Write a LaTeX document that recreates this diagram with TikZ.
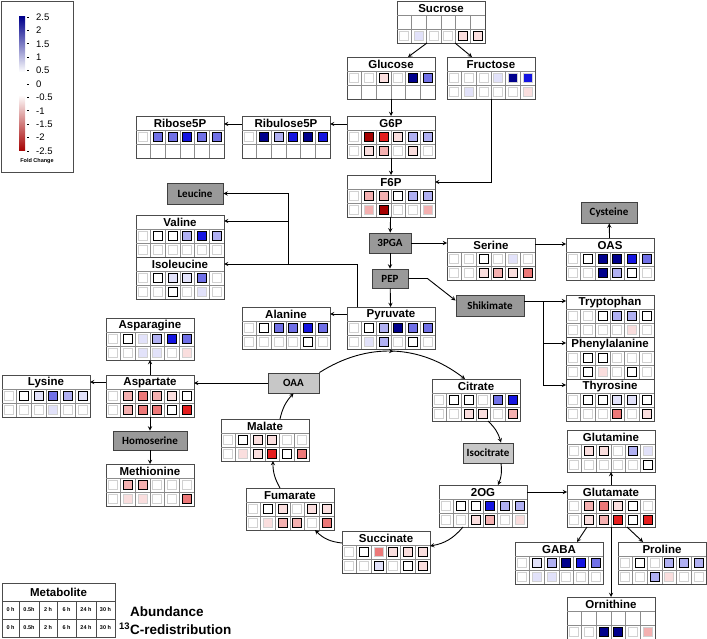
\documentclass[tikz,border=0pt]{standalone}
\usepackage{fontspec}
\setmainfont{Liberation Sans}
\newfontfamily\boxfont{Carlito}
\usetikzlibrary{positioning}
\usetikzlibrary{arrows}
\usetikzlibrary{decorations.markings}

\definecolor{b1}{RGB}{226,226,250}
\definecolor{b2}{RGB}{176,176,242}
\definecolor{b3}{RGB}{112,112,230}
\definecolor{b4}{RGB}{20,20,225}
\definecolor{b5}{RGB}{0,0,140}
\definecolor{r1}{RGB}{250,222,222}
\definecolor{r2}{RGB}{244,176,176}
\definecolor{r3}{RGB}{236,120,120}
\definecolor{r4}{RGB}{228,30,30}
\definecolor{r5}{RGB}{165,0,0}
\colorlet{c0}{white}
\colorlet{x}{white}

\tikzset{
  metbox/.style={rectangle,draw=black!70,line width=0.9pt,
                 minimum width=88pt,minimum height=42pt,
                 inner sep=0pt,outer sep=0pt},
  mettitle/.style={font=\fontsize{11.5}{12}\selectfont\bfseries,inner sep=0pt},
  cellgrid/.style={draw=black!45,line width=0.6pt},
  cellg/.style={draw=black!18,line width=0.7pt},
  cellk/.style={draw=black,line width=1.3pt},
  cellx/.style={draw=none,fill=none},
  interm/.style={rectangle,draw=black!75,fill=black!40,line width=0.9pt,
                 inner sep=0pt,font=\boxfont\fontsize{11}{12}\selectfont\bfseries},
  intermlight/.style={interm,fill=black!22},
  convflow/.style={>=stealth,line width=0.9pt,->},
  cycleflow/.style={convflow,postaction={decorate},
                    decoration={markings,mark=at position 0.5 with {\arrow{stealth}}}},
  legframe/.style={rectangle,draw=black!70,line width=0.9pt,inner sep=0pt},
  fclabel/.style={anchor=west,inner sep=0pt,font=\fontsize{9.5}{10}\selectfont},
  hourlabel/.style={inner sep=0pt,font=\fontsize{5.5}{6}\selectfont\bfseries},
  legtext/.style={anchor=west,inner sep=0pt,font=\fontsize{13.5}{14}\selectfont\bfseries},
}

% name, placement, title, abundance row, 13C row
\newcommand{\metab}[5]{%
  \node[metbox,#2] (#1) {};
  \begin{scope}[shift={(#1.north west)}]
    \node[mettitle] (#1-t) at (44,7.5) {#3};
    \draw[cellgrid] (0,14) -- (88,14) (0,28) -- (88,28);
    \foreach \k in {1,...,5}
      \draw[cellgrid] (\k*14.667,14) -- (\k*14.667,42);
    \foreach \cfill/\cbord [count=\i from 0] in {#4}
      \path[fill=\cfill,cell\cbord] (\i*14.667+2.83,16.5) rectangle ++(9,9);
    \foreach \cfill/\cbord [count=\i from 0] in {#5}
      \path[fill=\cfill,cell\cbord] (\i*14.667+2.83,30.5) rectangle ++(9,9);
  \end{scope}
}

\begin{document}
\begin{tikzpicture}[x=1pt,y=-1pt]
  \useasboundingbox (0,0) rectangle (707,639);

  % fold change legend
  \node[legframe,minimum width=72pt,minimum height=171pt] (fclegend) at (37,86.5) {};
  \shade[top color=b5,bottom color=white] (19,17) rectangle (25,72);
  \shade[top color=white,bottom color=r5] (19,95) rectangle (25,151);
  \foreach \v [count=\i from 0] in {2.5,2,1.5,1,0.5,0,-0.5,-1,-1.5,-2,-2.5}{
    \draw[line width=0.6pt] (27,17+\i*13.4) -- (28.5,17+\i*13.4);
    \node[fclabel] (fc\i) at (36,17+\i*13.4) {\v};
  }
  \node[inner sep=0pt,font=\fontsize{5.5}{6}\selectfont\bfseries] (fctitle) at (37,161) {Fold Change};

  % metabolites
  \metab{sucrose}{at={(441,22)}}{Sucrose}{x,x,x,x,x,x}{c0/g,b1/g,c0/g,c0/g,r1/k,r1/k}
  \metab{glucose}{at={(391,78)}}{Glucose}{c0/g,c0/g,r1/k,c0/g,b5/k,b3/k}{x,x,x,x,x,x}
  \metab{fructose}{at={(491,78)}}{Fructose}{c0/g,c0/g,c0/g,b1/g,b5/g,b4/g}{c0/g,b1/g,c0/g,c0/g,c0/g,r1/g}
  \metab{g6p}{at={(391,137)}}{G6P}{c0/g,r5/k,r4/k,r1/k,b2/k,b2/k}{c0/g,r1/k,r2/k,c0/g,r1/k,c0/g}
  \metab{f6p}{at={(391,196)}}{F6P}{c0/g,r2/k,r2/k,c0/k,b2/k,b2/k}{c0/g,r2/g,r5/k,c0/g,c0/g,r2/g}
  \metab{ribulose}{at={(286,137)}}{Ribulose5P}{c0/g,b5/k,b2/k,b4/k,b5/k,b4/k}{x,x,x,x,x,x}
  \metab{ribose}{at={(180,137)}}{Ribose5P}{c0/g,b3/k,b3/k,b4/k,b3/k,b3/k}{x,x,x,x,x,x}
  \metab{valine}{at={(180,236)}}{Valine}{c0/g,c0/k,c0/k,b2/k,b4/k,b2/k}{c0/g,c0/g,c0/g,c0/g,c0/g,c0/g}
  \metab{isoleucine}{below=0pt of valine}{Isoleucine}{c0/g,c0/k,b1/k,b1/k,b3/k,c0/g}{c0/g,c0/g,c0/k,c0/g,b1/g,c0/g}
  \metab{pyruvate}{at={(391,328)}}{Pyruvate}{c0/g,c0/k,b2/k,b5/k,b3/k,b3/k}{c0/g,b1/g,b2/k,c0/g,c0/k,c0/g}
  \metab{alanine}{at={(286,328)}}{Alanine}{c0/g,c0/k,b3/k,b3/k,b4/k,b3/k}{c0/g,c0/g,c0/g,c0/g,c0/k,c0/g}
  \metab{serine}{at={(491,259)}}{Serine}{c0/g,c0/g,c0/k,c0/g,b1/g,c0/g}{c0/g,c0/g,r1/k,r2/k,r1/k,r3/k}
  \metab{oas}{at={(610,259)}}{OAS}{c0/g,c0/k,b5/k,b5/k,b4/k,b3/k}{c0/g,c0/g,b5/k,b2/k,c0/k,c0/g}
  \metab{tryptophan}{at={(610,316)}}{Tryptophan}{c0/g,c0/g,c0/k,b2/k,b2/k,c0/k}{c0/g,c0/g,c0/g,c0/g,r1/g,c0/g}
  \metab{phenylalanine}{below=0pt of tryptophan}{Phenylalanine}{c0/g,c0/k,c0/k,c0/g,c0/g,c0/g}{c0/g,c0/k,r1/g,c0/g,c0/k,c0/g}
  \metab{thyrosine}{below=0pt of phenylalanine}{Thyrosine}{c0/g,c0/k,c0/k,b1/k,b1/k,c0/k}{c0/g,c0/g,c0/g,r3/k,c0/g,r1/k}
  \metab{asparagine}{at={(150,339)}}{Asparagine}{c0/g,c0/k,b1/g,b2/k,b4/k,b3/k}{c0/g,c0/g,b1/g,b1/g,c0/g,r1/g}
  \metab{aspartate}{at={(150,396)}}{Aspartate}{c0/g,r2/k,r3/k,r2/k,r1/k,c0/k}{c0/g,r2/k,r3/k,r3/k,c0/k,r4/k}
  \metab{lysine}{at={(46,396)}}{Lysine}{c0/g,c0/k,b1/k,b3/k,b2/k,b1/k}{c0/g,c0/g,c0/g,b1/g,c0/g,c0/g}
  \metab{methionine}{at={(150,485)}}{Methionine}{c0/g,r2/k,r2/k,c0/g,c0/g,c0/g}{c0/g,r1/g,r1/g,c0/g,c0/g,r3/k}
  \metab{malate}{at={(265,440)}}{Malate}{c0/g,c0/k,r1/k,r1/k,c0/g,c0/g}{c0/g,r1/g,r1/k,r4/k,c0/k,r3/k}
  \metab{fumarate}{at={(290,509)}}{Fumarate}{c0/g,c0/k,r1/k,c0/g,r1/k,r1/k}{c0/g,r1/g,r2/k,r2/k,c0/g,r3/k}
  \metab{succinate}{at={(386,552)}}{Succinate}{c0/g,c0/k,r3/g,r1/k,r1/k,r1/k}{c0/g,c0/g,b1/k,c0/g,c0/k,r1/k}
  \metab{citrate}{at={(476,400)}}{Citrate}{c0/g,c0/k,c0/k,c0/g,b3/k,b4/k}{c0/g,c0/g,r1/k,r1/k,c0/g,r2/k}
  \metab{twoog}{at={(483,506)}}{2OG}{c0/g,c0/k,c0/k,b4/k,b2/k,b2/k}{c0/g,c0/g,r1/k,r2/k,c0/g,r1/g}
  \metab{glutamate}{at={(611,506)}}{Glutamate}{c0/g,r2/k,r3/k,r1/k,c0/k,c0/g}{c0/g,r1/k,r2/k,r4/k,c0/k,r4/k}
  \metab{glutamine}{at={(611,451)}}{Glutamine}{c0/g,r1/k,r1/k,c0/g,b2/k,b1/g}{c0/g,c0/g,c0/g,c0/g,c0/g,c0/k}
  \metab{gaba}{at={(559,563)}}{GABA}{c0/g,b1/k,b2/k,b5/k,b4/k,b3/k}{c0/g,b1/g,b1/g,c0/g,c0/g,c0/g}
  \metab{proline}{at={(662,563)}}{Proline}{c0/g,c0/k,c0/g,b2/k,b2/k,b2/k}{c0/g,c0/g,b2/k,r1/g,c0/g,c0/g}
  \metab{ornithine}{at={(611,618)}}{Ornithine}{x,x,x,x,x,x}{c0/g,c0/g,b5/k,b5/k,c0/g,r2/g}

  % unmeasured intermediates
  \node[interm,minimum width=56pt,minimum height=21pt] (leucine) at (195,193.5) {Leucine};
  \node[interm,minimum width=42pt,minimum height=20pt] (pga) at (390,243) {3PGA};
  \node[interm,minimum width=36pt,minimum height=19pt] (pep) at (390,278.5) {PEP};
  \node[interm,minimum width=56pt,minimum height=21pt] (cysteine) at (609,212.5) {Cysteine};
  \node[interm,minimum width=68pt,minimum height=21pt] (shikimate) at (490,305.5) {Shikimate};
  \node[interm,minimum width=74pt,minimum height=19pt] (homoserine) at (150,440.5) {Homoserine};
  \node[intermlight,minimum width=51pt,minimum height=20pt] (oaa) at (293.5,383) {OAA};
  \node[intermlight,minimum width=50pt,minimum height=20pt] (isocitrate) at (488,453) {Isocitrate};

  % glycolysis
  \draw[convflow] ([xshift=-14]sucrose.south) -- ([xshift=17]glucose.north);
  \draw[convflow] ([xshift=14]sucrose.south) -- ([xshift=-19]fructose.north);
  \draw[convflow] (glucose) -- (g6p);
  \draw[convflow] (fructose.south) |- ([yshift=14]f6p.east);
  \draw[convflow] ([yshift=13]g6p.west) -- ([yshift=13]ribulose.east);
  \draw[convflow] ([yshift=13]ribulose.west) -- ([yshift=13]ribose.east);
  \draw[convflow] (g6p) -- (f6p);
  \draw[convflow] (f6p) -- (pga);
  \draw[convflow] (pga) -- (pep);
  \draw[convflow] (pep) -- (pyruvate);

  % amino acids
  \coordinate (bcaa) at (288,264);
  \draw[convflow] ([xshift=-34]pyruvate.north) |- ([yshift=14]isoleucine.east);
  \draw[convflow] (bcaa) |- ([yshift=15]valine.east);
  \draw[convflow] (bcaa) |- (leucine.east);
  \draw[convflow] ([yshift=14]pyruvate.west) -- ([yshift=14]alanine.east);
  \draw[convflow] (pga) -- (pga -| serine.west);
  \draw[convflow] ([yshift=15]serine.east) -- ([yshift=15]oas.west);
  \draw[convflow] (oas) -- (cysteine);
  \draw[convflow] (pep.east) -- ++(19,0) -- ([yshift=5]shikimate.west);
  \coordinate (aro) at (543,301);
  \draw[convflow] ([yshift=4.5]shikimate.east) -- ([yshift=15]tryptophan.west);
  \draw[convflow] (aro) |- ([yshift=15]phenylalanine.west);
  \draw[convflow] (aro) |- ([yshift=15]thyrosine.west);
  \draw[convflow] (oaa) -- (oaa -| aspartate.east);
  \draw[convflow] (aspartate) -- (asparagine);
  \draw[convflow] ([yshift=14]aspartate.west) -- ([yshift=14]lysine.east);
  \draw[convflow] (aspartate) -- (homoserine);
  \draw[convflow] (homoserine) -- (methionine);

  % TCA cycle
  \draw[cycleflow] (oaa.north east) to[bend left=35] ([xshift=-11]citrate.north);
  \draw[convflow] ([xshift=12]citrate.south) to[bend left=15] ([xshift=13]isocitrate.north);
  \draw[convflow] ([xshift=13]isocitrate.south) to[bend left=15] ([xshift=15]twoog.north);
  \draw[convflow] ([xshift=-20]twoog.south) to[bend left=20] ([yshift=6]succinate.east);
  \draw[convflow] ([yshift=9]succinate.west) to[bend left=20] ([xshift=25]fumarate.south);
  \draw[convflow] ([xshift=-10]fumarate.north) to[bend left=15] ([xshift=8]malate.south);
  \draw[convflow] ([xshift=15]malate.north) to[bend left=15] (oaa.south);
  \draw[convflow] ([yshift=14]twoog.east) -- ([yshift=14]glutamate.west);
  \draw[convflow] (glutamate) -- (glutamine);
  \draw[convflow] ([xshift=-24]glutamate.south) -- ([xshift=18]gaba.north);
  \draw[convflow] ([xshift=16]glutamate.south) -- ([xshift=-19]proline.north);
  \draw[convflow] (glutamate) -- (ornithine);

  % time point legend
  \node[metbox,minimum width=113pt,minimum height=54pt] (legmet) at (58.5,610) {};
  \begin{scope}[shift={(legmet.north west)}]
    \node[mettitle] (legmet-t) at (56.5,9.5) {Metabolite};
    \draw[cellgrid,draw=black!70] (0,18) -- (113,18) (0,36) -- (113,36);
    \foreach \k in {17,37,55,74,94}
      \draw[cellgrid,draw=black!70] (\k,18) -- (\k,54);
    \foreach \h/\c [count=\i] in {0 h/8.5,0.5h/27,2 h/46,6 h/64.5,24 h/84,30 h/103.5}{
      \node[hourlabel] (ha\i) at (\c,27) {\h};
      \node[hourlabel] (hb\i) at (\c,45) {\h};
    }
  \end{scope}
  \node[legtext] (abund) at (130,612) {Abundance};
  \node[legtext] (redist) at (119,629) {\textsuperscript{13}C-redistribution};
\end{tikzpicture}
\end{document}
